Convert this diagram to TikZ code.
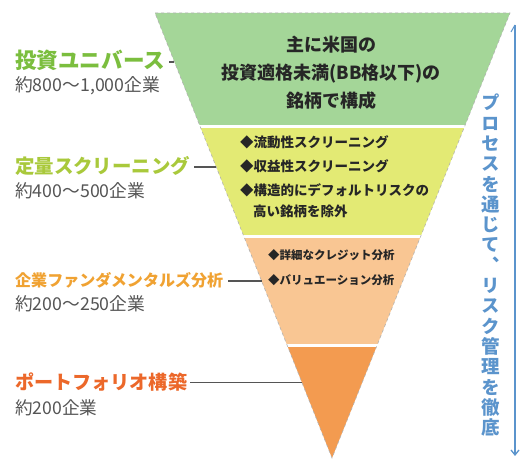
\documentclass[tikz,border=0pt]{standalone}
\usepackage{fontspec}
\newfontfamily\jp{Noto Sans CJK JP}
\newfontfamily\jpv[RawFeature=+vert]{Noto Sans CJK JP}
\usetikzlibrary{calc,arrows.meta}
\definecolor{bandA}{HTML}{A4D698}
\definecolor{bandB}{HTML}{E3EA74}
\definecolor{bandC}{HTML}{F9C693}
\definecolor{bandD}{HTML}{F39B50}
\definecolor{labA}{HTML}{7BBE3E}
\definecolor{labB}{HTML}{A9C93B}
\definecolor{labC}{HTML}{F0A232}
\definecolor{labD}{HTML}{EC682A}
\definecolor{subgray}{HTML}{555555}
\definecolor{procblue}{HTML}{5B94CC}
\tikzset{
  lab/.style={anchor=base west,inner sep=0pt,font=\jp\bfseries},
  sublab/.style={anchor=base west,inner sep=0pt,text=subgray,font=\jp},
  conn/.style={draw=subgray,line width=1.4pt},
  inner/.style={inner sep=0pt,text=black!85,font=\jp\bfseries},
}
\begin{document}
\begin{tikzpicture}[x=1pt,y=-1pt]
\useasboundingbox (0,0) rectangle (520,462);
\fill[white] (0,0) rectangle (520,462);
\coordinate (TL) at (155,13);
\coordinate (TR) at (510,13);
\coordinate (AP) at (332,458);
\begin{scope}
  \clip (TL) -- (TR) -- (AP) -- cycle;
  \fill[bandA] (140,0) rectangle (520,125);
  \fill[bandB] (140,128) rectangle (520,235);
  \fill[bandC] (140,238) rectangle (520,344);
  \fill[bandD] (140,347) rectangle (520,470);
\end{scope}
\draw[gray!60,dashed,line width=0.6pt] (TL) -- (TR) -- (AP) -- cycle;
% edge points for connectors
\coordinate (E1) at ($(TL)!0.110!(AP)$);
\coordinate (E2) at ($(TL)!0.346!(AP)$);
\coordinate (E3) at ($(TL)!0.602!(AP)$);
\coordinate (E4) at ($(TL)!0.831!(AP)$);
% left labels
\node[lab,text=labA] (L1) at (15,69) {\resizebox{150pt}{!}{投資ユニバース}};
\node[sublab] (S1) at (15,92) {\resizebox{145pt}{!}{約800～1,000企業}};
\node[lab,text=labB] (L2) at (15,174) {\resizebox{175pt}{!}{定量スクリーニング}};
\node[sublab] (S2) at (15,198) {\resizebox{130pt}{!}{約400～500企業}};
\node[lab,text=labC] (L3) at (15,287) {\resizebox{208pt}{!}{企業ファンダメンタルズ分析}};
\node[sublab] (S3) at (15,311) {\resizebox{130pt}{!}{約200～250企業}};
\node[lab,text=labD] (L4) at (15,390) {\resizebox{172pt}{!}{ポートフォリオ構築}};
\node[sublab] (S4) at (15,415) {\resizebox{82pt}{!}{約200企業}};
\draw[conn] (L1.east |- E1) ++(4,0) -- (E1);
\draw[conn] (L2.east |- E2) ++(4,0) -- (E2);
\draw[conn] (L3.east |- E3) ++(5,0) -- (E3);
\draw[conn] (L4.east |- E4) ++(3,0) -- (E4);
% green band text
\node[inner,font=\jp\bfseries\fontsize{18}{28}\selectfont,align=center] (G) at (331,73)
  {主に米国の\\投資適格未満(BB格以下)の\\銘柄で構成};
% yellow band
\node[inner,anchor=base west,font=\jp\bfseries\fontsize{13.5}{24}\selectfont] (Y1) at (240,148) {◆流動性スクリーニング};
\node[inner,anchor=base west,font=\jp\bfseries\fontsize{13.5}{24}\selectfont] (Y2) at (240,172) {◆収益性スクリーニング};
\node[inner,anchor=base west,font=\jp\bfseries\fontsize{13.5}{24}\selectfont] (Y3) at (240,196) {◆構造的にデフォルトリスクの};
\node[inner,anchor=base west,font=\jp\bfseries\fontsize{13.5}{24}\selectfont] (Y4) at (253,217) {高い銘柄を除外};
% light orange band
\node[inner,anchor=base west,font=\jp\bfseries\fontsize{11.5}{20}\selectfont] (O1) at (268,260) {◆詳細なクレジット分析};
\node[inner,anchor=base west,font=\jp\bfseries\fontsize{11.5}{20}\selectfont] (O2) at (268,285) {◆バリュエーション分析};
% right process arrow
\coordinate (PT) at (515,25);
\coordinate (PB) at (515,456);
\draw[procblue,line width=1.3pt,-{Straight Barb[length=5pt,width=8pt]}] (PT) -- (PB);
\draw[procblue,line width=1pt] (PT) -- ++(-4,7);
\node[inner sep=0pt,text=procblue,font=\jpv\bfseries\fontsize{18.5}{20.3}\selectfont,align=center,anchor=north] (P) at (491,94)
  {プ\\ロ\\セ\\ス\\を\\通\\じ\\て\\、\\リ\\ス\\ク\\管\\理\\を\\徹\\底};
\end{tikzpicture}
\end{document}
